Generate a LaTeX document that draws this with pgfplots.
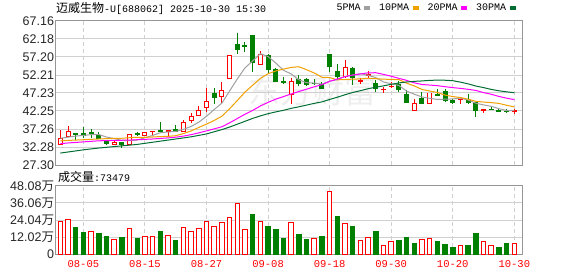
\documentclass[border=0pt]{standalone}
\usepackage{pgfplots}
\pgfplotsset{compat=1.18}
\usepackage{pgfplotstable}
\usepackage{fontspec}
\setmainfont{Liberation Sans}
\newfontfamily\cjk{Noto Sans CJK SC}
\newfontfamily\mono{Liberation Mono}

\definecolor{upred}{RGB}{255,0,0}
\definecolor{dngreen}{RGB}{0,128,0}
\definecolor{maA}{RGB}{160,160,160}
\definecolor{maB}{RGB}{240,160,0}
\definecolor{maC}{RGB}{255,0,255}
\definecolor{maD}{RGB}{0,110,50}
\definecolor{gridc}{RGB}{208,208,208}
\definecolor{framec}{RGB}{150,150,150}

% up (hollow red) candles
\pgfplotstableread{
i o h l c
0 33.03 37.00 32.84 34.50
1 35.13 38.10 35.00 36.71
7 33.03 33.90 32.90 33.58
9 33.11 35.96 33.00 35.80
11 35.52 36.40 35.20 36.35
12 36.65 36.75 35.33 36.71
14 36.60 36.80 35.13 36.75
16 36.71 39.76 36.50 39.12
17 39.56 41.60 39.00 40.86
18 41.06 43.63 41.00 42.52
19 43.27 48.70 42.05 44.93
21 46.32 50.20 44.38 47.98
22 51.30 57.60 51.20 57.55
26 55.17 58.86 55.00 57.94
30 46.68 51.30 44.10 50.55
37 51.74 56.36 51.30 54.34
39 50.50 51.47 49.80 50.60
40 52.30 53.32 51.30 52.40
42 48.20 48.98 47.30 48.30
43 49.00 50.20 48.50 49.10
46 42.44 45.57 42.40 44.19
48 44.46 47.30 44.20 47.23
52 45.40 45.50 44.10 45.50
55 42.55 42.85 41.78 42.60
59 42.15 42.80 41.30 42.30
}\uptab

% down (filled green) candles
\pgfplotstableread{
i o h l c
2 36.00 36.20 34.20 35.70
3 36.07 37.73 34.69 35.41
4 36.30 37.27 34.86 36.20
5 35.41 36.44 34.60 34.69
6 33.94 34.10 32.84 33.20
8 33.58 33.70 32.00 32.84
10 35.90 36.35 35.30 35.70
13 36.75 39.10 36.60 36.65
15 37.07 38.37 36.40 36.52
20 47.04 48.53 44.10 45.93
23 60.52 63.76 57.94 59.22
24 60.40 61.43 58.50 60.20
25 63.01 63.05 53.13 55.62
27 57.55 57.90 52.85 53.60
28 53.79 54.23 50.20 50.36
29 50.30 51.74 49.64 50.10
31 51.02 52.30 49.17 49.80
32 50.83 51.38 49.25 49.65
33 49.96 51.00 49.45 49.85
34 49.64 50.36 48.40 48.53
35 57.94 58.00 52.96 54.70
36 53.13 55.26 51.02 51.74
38 54.15 54.30 49.44 51.57
41 49.92 50.83 47.59 48.53
44 49.72 50.60 47.60 48.25
45 46.95 48.06 44.40 44.66
47 45.57 47.59 44.20 44.46
49 46.80 48.25 46.50 46.70
50 47.51 48.30 44.70 45.02
51 45.20 45.65 44.27 44.55
53 45.10 46.95 44.27 44.66
54 44.66 44.80 40.67 42.33
56 42.75 43.40 42.50 42.60
57 42.35 43.16 42.17 42.30
58 42.20 42.80 41.60 42.05
}\dntab

% moving averages
\pgfplotstableread{
i ma5 ma10 ma20 ma30
0 34.70 34.00 33.20 30.60
1 35.00 34.10 33.40 30.90
2 35.30 34.20 33.55 31.20
3 35.50 34.30 33.70 31.50
4 35.70 34.40 33.85 31.75
5 35.74 34.50 34.00 32.00
6 35.04 34.60 34.05 32.20
7 34.62 34.65 34.10 32.40
8 34.10 34.70 34.15 32.60
9 34.02 34.86 34.20 32.80
10 34.22 34.98 34.30 33.00
11 34.85 34.95 34.40 33.30
12 35.48 35.05 34.50 33.60
13 36.24 35.17 34.65 33.90
14 36.45 35.23 34.80 34.20
15 36.60 35.41 35.00 34.50
16 37.15 36.00 35.30 34.80
17 37.98 36.73 35.70 35.10
18 39.15 37.70 36.20 35.50
19 40.79 38.62 36.74 35.90
20 42.67 39.63 37.31 36.50
21 44.44 40.80 37.88 37.10
22 47.78 42.88 38.97 37.80
23 51.12 45.14 40.16 38.60
24 54.18 47.48 41.36 39.40
25 56.11 49.39 42.41 40.20
26 58.11 51.28 43.64 40.90
27 57.32 52.55 44.64 41.50
28 55.54 53.33 45.52 42.00
29 53.52 53.85 46.24 42.44
30 52.51 54.31 46.97 42.98
31 50.89 54.50 47.64 43.41
32 50.08 53.69 48.29 43.88
33 49.98 52.76 48.95 44.36
34 49.67 51.59 49.54 44.77
35 50.51 51.50 50.45 45.44
36 50.91 50.88 51.08 46.06
37 51.83 50.95 51.76 46.75
38 52.18 51.07 52.21 47.37
39 52.59 51.13 52.49 47.87
40 52.13 51.32 52.82 48.42
41 51.49 51.19 52.84 48.83
42 50.28 51.07 52.38 49.21
43 49.79 50.98 51.87 49.63
44 49.32 50.95 51.28 50.01
45 47.77 49.95 50.73 50.28
46 46.90 49.19 50.04 50.45
47 46.13 48.21 49.58 50.57
48 45.76 47.77 49.43 50.73
49 45.45 47.38 49.26 50.79
50 45.52 46.64 48.98 50.76
51 45.59 46.25 48.72 50.64
52 45.80 45.97 48.51 50.24
53 45.29 45.52 48.25 49.76
54 44.41 44.93 47.94 49.16
55 43.93 44.72 47.34 48.73
56 43.54 44.57 46.88 48.22
57 42.90 44.35 46.28 47.84
58 42.38 43.83 45.80 47.56
59 42.37 43.39 45.39 47.30
}\matab

% volume (10k shares), red = up
\pgfplotstableread{
i v
0 23.3
1 24.5
4 15.6
7 9.9
9 18.2
11 12.5
12 12.5
14 13.2
16 18.9
17 16.0
18 18.2
19 23.1
20 19.6
21 22.4
22 25.9
23 35.8
24 17.4
26 23.1
30 22.4
33 11.1
35 44.3
37 21.7
39 9.2
40 11.8
42 6.1
43 8.5
47 10.4
48 11.1
52 6.1
55 8.5
56 6.1
59 7.35
}\volup

\pgfplotstableread{
i v
2 18.4
3 15.1
5 14.4
6 12.7
8 12.0
10 11.3
13 15.6
15 9.2
25 27.6
27 19.1
28 17.0
29 11.3
31 14.1
32 9.9
34 12.7
36 26.2
38 19.1
41 15.6
44 9.2
45 12.0
46 7.1
49 8.5
50 6.4
51 4.9
53 5.7
54 14.8
57 4.9
58 7.1
}\voldn

\pgfplotsset{
  kbase/.style={
    scale only axis, width=466.3pt,
    xmin=-0.6, xmax=60,
    xtick={3,11,19,27,35,43,51,59},
    major tick length=0pt,
    ymajorgrids, xmajorgrids,
    y grid style={gridc, line width=1pt},
    x grid style={gridc, line width=1pt, dash pattern=on 4pt off 3pt},
    axis line style={framec, line width=1pt},
    yticklabel style={font=\fontsize{12.5}{13}\selectfont, text=black!85, inner sep=1.5pt},
  },
  candle/.style={draw=none, mark=none, forget plot,
    error bars/.cd, y dir=both, y explicit, error mark=none,
    error bar style={#1}},
}

\begin{document}
\begin{tikzpicture}
\useasboundingbox (0,0) rectangle (578pt,276pt);

% watermark
\node[text=gray!13, font=\cjk\fontsize{32}{32}\selectfont, inner sep=0pt] at (312pt,185pt) {东方财富};

% title
\node[anchor=west, inner sep=0pt] at (56pt,268pt)
  {{\cjk\fontsize{12}{12}\selectfont 迈威生物}{\mono\fontsize{10}{12}\selectfont -U[688062] 2025-10-30 15:30}};

% volume label
\node[anchor=west, inner sep=0pt] at (58pt,99pt)
  {{\cjk\fontsize{12}{12}\selectfont 成交量}{\mono\fontsize{10}{12}\selectfont :73479}};

\begin{axis}[
  kbase,
  at={(55.7pt,111pt)}, anchor=south west,
  height=144pt,
  ymin=27.30, ymax=67.16,
  xticklabels={},
  ytick={27.30,32.28,37.26,42.25,47.23,52.21,57.20,62.18,67.16},
  yticklabels={27.30,32.28,37.26,42.25,47.23,52.21,57.20,62.18,67.16},
  legend columns=4,
  legend plot pos=right,
  legend image code/.code={\draw[#1, line width=3.5pt] (0pt,0pt) -- (6pt,0pt);},
  legend style={draw=none, fill=none, inner sep=0pt, at={(0.600,1.0903)}, anchor=west,
    font=\mono\fontsize{10}{11}\selectfont, column sep=1pt,
    /tikz/every even column/.append style={column sep=6pt},
    nodes={inner sep=1pt}},
]
% wicks
\addplot[candle={draw=upred, line width=1pt}]
  table[x=i, y expr={(\thisrow{h}+\thisrow{l})/2}, y error expr={(\thisrow{h}-\thisrow{l})/2}] {\uptab};
\addplot[candle={draw=dngreen, line width=1pt}]
  table[x=i, y expr={(\thisrow{h}+\thisrow{l})/2}, y error expr={(\thisrow{h}-\thisrow{l})/2}] {\dntab};
% bodies
\addplot[candle={draw=upred, line width=5pt}]
  table[x=i, y expr={(\thisrow{o}+\thisrow{c})/2}, y error expr={abs(\thisrow{c}-\thisrow{o})/2+0.138}] {\uptab};
\addplot[candle={draw=white, line width=3pt}]
  table[x=i, y expr={(\thisrow{o}+\thisrow{c})/2}, y error expr={max(abs(\thisrow{c}-\thisrow{o})/2-0.138,0)}] {\uptab};
\addplot[candle={draw=dngreen, line width=5pt}]
  table[x=i, y expr={(\thisrow{o}+\thisrow{c})/2}, y error expr={abs(\thisrow{c}-\thisrow{o})/2+0.138}] {\dntab};
% moving averages
\addplot[maA, line width=1pt, mark=none] table[x=i, y=ma5] {\matab};
\addlegendentry{5PMA}
\addplot[maB, line width=1pt, mark=none] table[x=i, y=ma10] {\matab};
\addlegendentry{10PMA}
\addplot[maC, line width=1pt, mark=none] table[x=i, y=ma20] {\matab};
\addlegendentry{20PMA}
\addplot[maD, line width=1pt, mark=none] table[x=i, y=ma30] {\matab};
\addlegendentry{30PMA}
\end{axis}

\begin{axis}[
  kbase,
  at={(55.7pt,22pt)}, anchor=south west,
  height=68pt,
  ymin=0, ymax=48.08,
  xticklabels={08-05,08-15,08-27,09-08,09-18,09-30,10-20,10-30},
  xticklabel style={font=\mono\fontsize{10.5}{11}\selectfont, text=upred, yshift=-3pt},
  ytick={0,12.02,24.04,36.06,48.08},
  yticklabels={0,{12.02{\cjk 万}},{24.04{\cjk 万}},{36.06{\cjk 万}},{48.08{\cjk 万}}},
]
\addplot[ybar, bar width=4.5pt, bar shift=0pt, draw=upred, fill=white, line width=1pt] table[x=i, y=v] {\volup};
\addplot[ybar, bar width=4.5pt, bar shift=0pt, draw=dngreen, fill=dngreen, line width=1pt] table[x=i, y=v] {\voldn};
\end{axis}
\end{tikzpicture}
\end{document}
